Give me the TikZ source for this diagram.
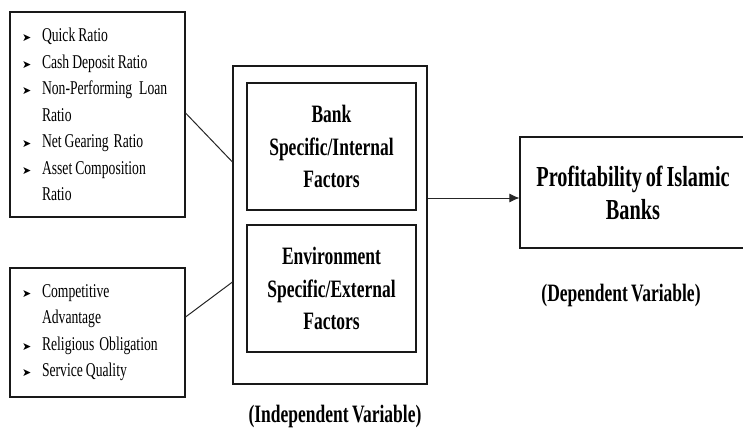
\documentclass[tikz,border=0pt]{standalone}
\usepackage{fontspec}
\setmainfont{Liberation Serif}[FakeStretch=0.7, WordSpace=0.75]
\newfontfamily\arrowfont{DejaVu Sans}
\usetikzlibrary{arrows.meta}
\newcommand{\itm}{\makebox[20pt][l]{\arrowfont\fontsize{11}{11}\selectfont ➤}}
\newcommand{\cnt}{\hspace{20pt}}
\begin{document}
\begin{tikzpicture}[x=1pt,y=-1pt,
    box/.style={draw=black!90, line width=1.1pt, inner sep=0pt},
    listbox/.style={box, align=left, text width=151pt,
      font=\fontsize{19.5}{26.5}\selectfont},
    factorbox/.style={box, align=center, minimum width=169pt, minimum height=127pt,
      font=\bfseries\fontsize{25}{32.5}\selectfont},
    caption/.style={font=\bfseries\fontsize{25}{28}\selectfont}]
  \useasboundingbox (0,0) rectangle (743,439);
  \clip (0,0) rectangle (743,439);
  \draw
    (97.5,114.5) node[listbox, minimum width=175pt, minimum height=205pt] (internal)
      {\itm Quick\hspace{3pt}Ratio\\ \itm Cash\hspace{3pt}Deposit\hspace{3pt}Ratio\\
       \itm \mbox{Non-Performing\hspace{7pt}Loan}\\
       \cnt Ratio\\ \itm Net\hspace{3pt}Gearing\hspace{5pt}Ratio\\ \itm Asset\hspace{3pt}Composition\\ \cnt Ratio}
    (97.5,332.5) node[listbox, minimum width=175pt, minimum height=129pt] (external)
      {\itm Competitive\\ \cnt Advantage\\ \itm Religious\hspace{5pt}Obligation\\ \itm Service\hspace{3pt}Quality}
    (330,225) node[box, minimum width=194pt, minimum height=318pt] (indep) {}
    (331.5,146.5) node[factorbox] (bank) {Bank\\ Specific/Internal\\ Factors}
    (331.5,288.5) node[factorbox] (env) {Environment\\ Specific/External\\ Factors}
    (633,192.5) node[box, minimum width=226pt, minimum height=111pt, align=center,
      font=\bfseries\fontsize{29}{33}\selectfont] (profit) {Profitability of Islamic\\ Banks}
    (335,416) node[caption] (indeplabel) {(Independent Variable)}
    (621,295) node[caption] (deplabel) {(Dependent Variable)};
  \begin{scope}[draw=black!85, line width=1pt]
    \draw ([yshift=1.5pt]internal.east) -- ([yshift=63pt]indep.west);
    \draw ([yshift=15.5pt]external.east) -- ([yshift=-57pt]indep.west);
    \coordinate (out) at ([yshift=27pt]indep.east);
    \draw[-{Latex[length=10pt,width=9pt]}] (out) -- (out -| profit.west);
  \end{scope}
\end{tikzpicture}
\end{document}
